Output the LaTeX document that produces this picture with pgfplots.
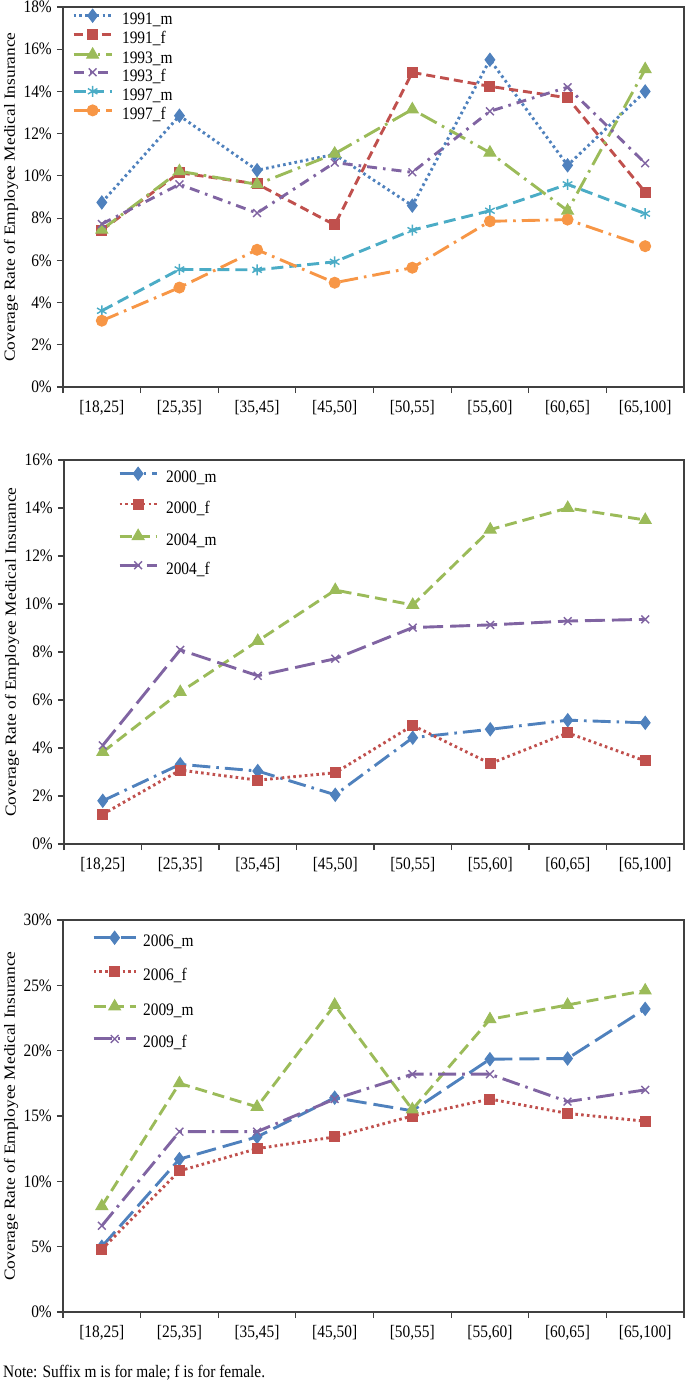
\documentclass[border=0pt]{standalone}
\usepackage{fontspec}
\setmainfont{Liberation Serif}[FakeStretch=0.88]
\newfontfamily\yfont{Liberation Serif}[FakeStretch=1.12]
\usepackage{pgfplots}
\pgfplotsset{compat=1.18}
\definecolor{cblue}{HTML}{4F81BD}
\definecolor{cred}{HTML}{C0504D}
\definecolor{cgreen}{HTML}{9BBB59}
\definecolor{cpurple}{HTML}{8064A2}
\definecolor{ccyan}{HTML}{4BACC6}
\definecolor{corange}{HTML}{F79646}
\definecolor{axgray}{HTML}{404040}
\newcommand{\tfont}{\fontsize{17.5bp}{20bp}\selectfont}
\pgfplotsset{
  common/.style={
    scale only axis, width=621bp,
    xmin=0, xmax=8, ymin=0,
    axis line style={draw=axgray, line width=1.2bp},
    tick style={draw=axgray, line width=1.1bp},
    major tick length=6bp, tick align=outside, tick pos=left,
    xtick={0,...,8}, xticklabels={},
    extra x ticks={0.5,1.5,...,7.5},
    extra x tick labels={{[18,25]},{[25,35]},{[35,45]},{[45,50]},{[50,55]},{[55,60]},{[60,65]},{[65,100]}},
    extra x tick style={major tick length=0pt, tick style={draw=none},
      xticklabel style={anchor=center, yshift=-21bp, font=\tfont}},
    /pgf/number format/assume math mode=true,
    yticklabel={\pgfmathprintnumber{\tick}\%},
    yticklabel style={font=\tfont, inner sep=0pt, xshift=-5bp},
    every axis y label/.style={at={(axis description cs:-0.0837,0.5)}, rotate=90, anchor=center, font=\yfont\fontsize{15.5bp}{17bp}\selectfont},
    ylabel={Coverage Rate of Employee Medical Insurance},
    legend cell align=left,
  },
  lw/.style={line width=2.9bp},
  dotR/.style={lw, dash pattern=on 2.6bp off 3.2bp},
  dashA/.style={lw, dash pattern=on 9bp off 5bp},
  dashB/.style={lw, dash pattern=on 12bp off 6bp},
  ldd/.style={lw, dash pattern=on 18bp off 6bp on 2.6bp off 6bp},
  ddot/.style={lw, dash pattern=on 10bp off 6bp on 2.6bp off 6bp},
  ldash/.style={lw, dash pattern=on 20bp off 7bp},
  mfill/.style={mark options={solid, fill=#1, line width=1bp}},
  mthin/.style={mark options={solid, line width=1.4bp}},
  mD/.style={mark=diamond*, mark size=6.5bp},
  mS/.style={mark=square*, mark size=5bp},
  mT/.style={mark=triangle*, mark size=6.8bp},
  mC/.style={mark=*, mark size=5.5bp},
  mX/.style={mark=x, mark size=5.5bp},
  mA/.style={mark=asterisk, mark size=5.5bp},
}
\begin{document}
\begin{tikzpicture}
\useasboundingbox (0bp,0bp) rectangle (685bp,-1382bp);
% ---------------- top panel
\begin{axis}[common, at={(63bp,-7bp)}, anchor=north west, height=380bp,
  ymax=18, ytick={0,2,...,18},
  legend image code/.code={\draw[mark repeat=2,mark phase=2,#1] plot coordinates {(0bp,5bp) (19bp,5bp) (38bp,5bp)};},
  legend style={draw=none, fill=none, inner sep=0pt, at={(axis description cs:0,1)}, anchor=north west,
    xshift=9bp, yshift=-2bp, font=\tfont, row sep=1.6bp, column sep=9bp,
    nodes={inner sep=0pt, text height=11bp, text depth=3bp}},
]
\addplot[cblue, dotR, mD, mfill=cblue] coordinates
 {(0.5,8.74) (1.5,12.85) (2.5,10.27) (3.5,11.02) (4.5,8.59) (5.5,15.5) (6.5,10.5) (7.5,14.0)};
\addlegendentry{1991\_m}
\addplot[cred, dashA, mS, mfill=cred] coordinates
 {(0.5,7.43) (1.5,10.15) (2.5,9.62) (3.5,7.68) (4.5,14.9) (5.5,14.24) (6.5,13.7) (7.5,9.23)};
\addlegendentry{1991\_f}
\addplot[cgreen, ldd, mT, mfill=cgreen] coordinates
 {(0.5,7.45) (1.5,10.22) (2.5,9.6) (3.5,11.05) (4.5,13.15) (5.5,11.1) (6.5,8.35) (7.5,15.05)};
\addlegendentry{1993\_m}
\addplot[cpurple, ddot, mX, mthin] coordinates
 {(0.5,7.72) (1.5,9.6) (2.5,8.24) (3.5,10.63) (4.5,10.17) (5.5,13.06) (6.5,14.2) (7.5,10.6)};
\addlegendentry{1993\_f}
\addplot[ccyan, dashB, mA, mthin] coordinates
 {(0.5,3.61) (1.5,5.57) (2.5,5.55) (3.5,5.93) (4.5,7.43) (5.5,8.35) (6.5,9.6) (7.5,8.21)};
\addlegendentry{1997\_m}
\addplot[corange, ldd, mC, mfill=corange] coordinates
 {(0.5,3.14) (1.5,4.71) (2.5,6.5) (3.5,4.94) (4.5,5.65) (5.5,7.85) (6.5,7.93) (7.5,6.67)};
\addlegendentry{1997\_f}
\end{axis}
% ---------------- middle panel
\begin{axis}[common, at={(64bp,-460bp)}, anchor=north west, height=384bp, width=620bp,
  ymax=16, ytick={0,2,...,16},
  legend image code/.code={\draw[mark repeat=2,mark phase=2,#1] plot coordinates {(0bp,5bp) (18.5bp,5bp) (37bp,5bp)};},
  legend style={draw=none, fill=none, inner sep=0pt, at={(axis description cs:0,1)}, anchor=north west,
    xshift=54bp, yshift=-7bp, font=\tfont, row sep=13.3bp, column sep=8bp,
    nodes={inner sep=0pt, text height=11bp, text depth=3bp}},
]
\addplot[cblue, ldd, mD, mfill=cblue] coordinates
 {(0.5,1.8) (1.5,3.32) (2.5,3.04) (3.5,2.05) (4.5,4.43) (5.5,4.78) (6.5,5.16) (7.5,5.05)};
\addlegendentry{2000\_m}
\addplot[cred, dotR, mS, mfill=cred] coordinates
 {(0.5,1.24) (1.5,3.08) (2.5,2.66) (3.5,2.97) (4.5,4.94) (5.5,3.35) (6.5,4.63) (7.5,3.46)};
\addlegendentry{2000\_f}
\addplot[cgreen, dashB, mT, mfill=cgreen] coordinates
 {(0.5,3.83) (1.5,6.33) (2.5,8.46) (3.5,10.58) (4.5,9.96) (5.5,13.1) (6.5,14.0) (7.5,13.5)};
\addlegendentry{2004\_m}
\addplot[cpurple, ldash, mX, mthin] coordinates
 {(0.5,4.11) (1.5,8.09) (2.5,7.01) (3.5,7.72) (4.5,9.02) (5.5,9.13) (6.5,9.29) (7.5,9.36)};
\addlegendentry{2004\_f}
\end{axis}
% ---------------- bottom panel
\begin{axis}[common, at={(63bp,-920bp)}, anchor=north west, height=392bp,
  ymax=30, ytick={0,5,...,30},
  legend image code/.code={\draw[mark repeat=2,mark phase=2,#1] plot coordinates {(0bp,5bp) (21bp,5bp) (42bp,5bp)};},
  legend style={draw=none, fill=none, inner sep=0pt, at={(axis description cs:0,1)}, anchor=north west,
    xshift=29bp, yshift=-11bp, font=\tfont, row sep=16.5bp, column sep=6bp,
    nodes={inner sep=0pt, text height=11bp, text depth=3bp}},
]
\addplot[cblue, ldash, mD, mfill=cblue] coordinates
 {(0.5,5.0) (1.5,11.7) (2.5,13.4) (3.5,16.4) (4.5,15.4) (5.5,19.35) (6.5,19.4) (7.5,23.2)};
\addlegendentry{2006\_m}
\addplot[cred, dotR, mS, mfill=cred] coordinates
 {(0.5,4.8) (1.5,10.8) (2.5,12.5) (3.5,13.4) (4.5,15.0) (5.5,16.3) (6.5,15.2) (7.5,14.6)};
\addlegendentry{2006\_f}
\addplot[cgreen, dashB, mT, mfill=cgreen] coordinates
 {(0.5,8.1) (1.5,17.5) (2.5,15.7) (3.5,23.5) (4.5,15.5) (5.5,22.4) (6.5,23.5) (7.5,24.6)};
\addlegendentry{2009\_m}
\addplot[cpurple, ldd, mX, mthin] coordinates
 {(0.5,6.6) (1.5,13.8) (2.5,13.8) (3.5,16.3) (4.5,18.2) (5.5,18.2) (6.5,16.1) (7.5,17.0)};
\addlegendentry{2009\_f}
\end{axis}
\node[anchor=west, inner sep=0pt, font=\tfont] at (3bp,-1373bp) {Note: Suffix m is for male; f is for female.};
\end{tikzpicture}
\end{document}
